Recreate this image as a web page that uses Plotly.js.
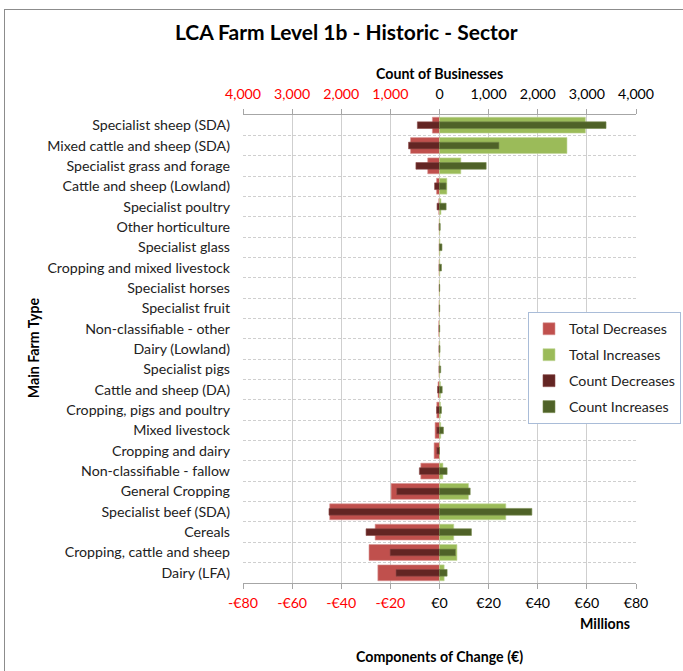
<!DOCTYPE html>
<html>
<head>
<meta charset="utf-8">
<script src="https://cdn.plot.ly/plotly-3.0.1.min.js"></script>
<style>
html,body{margin:0;padding:0;overflow:hidden;background:#fff;}
#wrap{position:relative;width:683px;height:671px;}
#chart{position:absolute;left:0;top:0;width:683px;height:671px;}
#frame{position:absolute;left:4px;top:9px;width:800px;height:800px;border-left:1px solid #8c8c8c;border-top:1px solid #8c8c8c;pointer-events:none;}
</style>
</head>
<body>
<div id="wrap"><div id="chart"></div><div id="frame"></div></div>
<script>
const categories = [
  "Specialist sheep (SDA)", "Mixed cattle and sheep (SDA)", "Specialist grass and forage",
  "Cattle and sheep (Lowland)", "Specialist poultry", "Other horticulture", "Specialist glass",
  "Cropping and mixed livestock", "Specialist horses", "Specialist fruit", "Non-classifiable - other",
  "Dairy (Lowland)", "Specialist pigs", "Cattle and sheep (DA)", "Cropping, pigs and poultry",
  "Mixed livestock", "Cropping and dairy", "Non-classifiable - fallow", "General Cropping",
  "Specialist beef (SDA)", "Cereals", "Cropping, cattle and sheep", "Dairy (LFA)"
];
// € millions
const totalDecreases = [-2.9, -11.8, -4.8, -1.2, -0.3, -0.1, -0.1, -0.2, -0.1, -0.2, -0.3, -0.2, -0.2, -0.6, -1.1, -1.8, -2.2, -7.6, -19.7, -44.7, -26.2, -28.7, -25.1];
const totalIncreases = [59.4, 51.9, 8.7, 3.0, 0.6, 0.1, 0.2, 0.1, 0, 0, 0, 0.1, 0.1, 0.4, 0.4, 0.5, 0, 1.4, 11.8, 27.0, 5.8, 7.1, 1.9];
// count of businesses
const countDecreases = [-450, -630, -480, -100, -50, -10, -5, -10, -5, -5, -10, -10, -10, -40, -60, -55, -55, -410, -870, -2250, -1495, -1005, -885];
const countIncreases = [3390, 1210, 950, 135, 135, 15, 50, 40, 5, 5, 5, 10, 25, 55, 40, 80, 0, 155, 625, 1880, 650, 325, 155];

const euroTickVals = [-80, -60, -40, -20, 0, 20, 40, 60, 80];
const euroTickText = ["-€80", "-€60", "-€40", "-€20", "€0", "€20", "€40", "€60", "€80"];
const countTickVals = [-4000, -3000, -2000, -1000, 0, 1000, 2000, 3000, 4000];
const countTickText = ["4,000", "3,000", "2,000", "1,000", "0", "1,000", "2,000", "3,000", "4,000"];

const RED = "#FF0000";
const colorTick = (vals, texts) => texts.map((t, i) => vals[i] < 0 ? `<span style="color:${RED}">${t}</span>` : t);

const FONT = "Lato, 'Open Sans', sans-serif";
const GRID = "#CFCFCF";
const FS = 14.2;

const traces = [
  {type: "bar", orientation: "h", name: "Total Decreases", y: categories, x: totalDecreases,
   xaxis: "x", yaxis: "y", width: 0.78, marker: {color: "#C0504D", line: {color: "#D99694", width: 0.6}}, hoverinfo: "x+y"},
  {type: "bar", orientation: "h", name: "Total Increases", y: categories, x: totalIncreases,
   xaxis: "x", yaxis: "y", width: 0.78, marker: {color: "#9BBB59", line: {color: "#C3D69B", width: 0.6}}, hoverinfo: "x+y"},
  {type: "bar", orientation: "h", name: "Count Decreases", y: categories, x: countDecreases,
   xaxis: "x2", yaxis: "y", width: 0.33, marker: {color: "#632523", line: {color: "#8C4A48", width: 0.6}}, hoverinfo: "x+y"},
  {type: "bar", orientation: "h", name: "Count Increases", y: categories, x: countIncreases,
   xaxis: "x2", yaxis: "y", width: 0.33, marker: {color: "#4F6228", line: {color: "#76894E", width: 0.6}}, hoverinfo: "x+y"}
];
traces.forEach((t, i) => { t.legendgroup = "g" + i; });

const layout = {
  width: 683, height: 671,
  margin: {l: 243, r: 47, t: 115, b: 88, autoexpand: false},
  paper_bgcolor: "#fff", plot_bgcolor: "#fff",
  font: {family: FONT, size: FS, color: "#222"},
  barmode: "overlay",
  showlegend: true,
  title: {text: "<b>LCA Farm Level 1b - Historic - Sector</b>", x: 0.507, xref: "container", y: 0.951, yref: "container",
          xanchor: "center", yanchor: "middle", font: {family: FONT, size: 21, color: "#000"}},
  xaxis: {
    range: [-80, 80], tickvals: euroTickVals, ticktext: colorTick(euroTickVals, euroTickText),
    showgrid: true, gridcolor: GRID, gridwidth: 1, zeroline: false,
    showline: true, linecolor: "#A6A6A6", ticks: "outside", ticklen: 5, tickcolor: "#A6A6A6",
    ticklabelstandoff: 2,
    tickfont: {family: FONT, size: FS, color: "#000"}, fixedrange: true
  },
  xaxis2: {
    overlaying: "x", side: "top", anchor: "y",
    range: [-4000, 4000], tickvals: countTickVals, ticktext: colorTick(countTickVals, countTickText),
    showgrid: false, zeroline: false,
    showline: true, linecolor: "#A6A6A6", ticks: "outside", ticklen: 5, tickcolor: "#A6A6A6",
    ticklabelstandoff: 4,
    tickfont: {family: FONT, size: FS, color: "#000"}, fixedrange: true
  },
  yaxis: {
    type: "category", autorange: "reversed", tickson: "boundaries",
    showgrid: true, gridcolor: GRID, griddash: "3px,2px", gridwidth: 1,
    ticks: "", showline: false, zeroline: false, ticklabelstandoff: 12,
    tickfont: {family: FONT, size: FS, color: "#222"}, fixedrange: true
  },
  legend: {
    x: 1.1145, xanchor: "right", y: 0.579, yanchor: "top",
    bgcolor: "#fff", bordercolor: "#A9BCD8", borderwidth: 1,
    font: {family: FONT, size: FS, color: "#222"},
    tracegroupgap: 4.5, traceorder: "grouped", itemwidth: 30
  },
  annotations: [
    {text: "<b>Count of Businesses</b>", xref: "paper", yref: "paper", x: 0.5, y: 1.0897, showarrow: false,
     xanchor: "center", yanchor: "middle", font: {family: FONT, size: FS, color: "#000"}},
    {text: "<b>Millions</b>", xref: "paper", yref: "paper", x: 0.921, y: -0.0855, showarrow: false,
     xanchor: "center", yanchor: "middle", font: {family: FONT, size: FS, color: "#000"}},
    {text: "<b>Components of Change (€)</b>", xref: "paper", yref: "paper", x: 0.5, y: -0.156, showarrow: false,
     xanchor: "center", yanchor: "middle", font: {family: FONT, size: FS, color: "#000"}},
    {text: "<b>Main Farm Type</b>", xref: "paper", yref: "paper", x: -0.534, y: 0.502, showarrow: false, textangle: -90,
     xanchor: "center", yanchor: "middle", font: {family: FONT, size: FS, color: "#000"}}
  ]
};

Plotly.newPlot("chart", traces, layout, {displayModeBar: false, staticPlot: true});
</script>
</body>
</html>
